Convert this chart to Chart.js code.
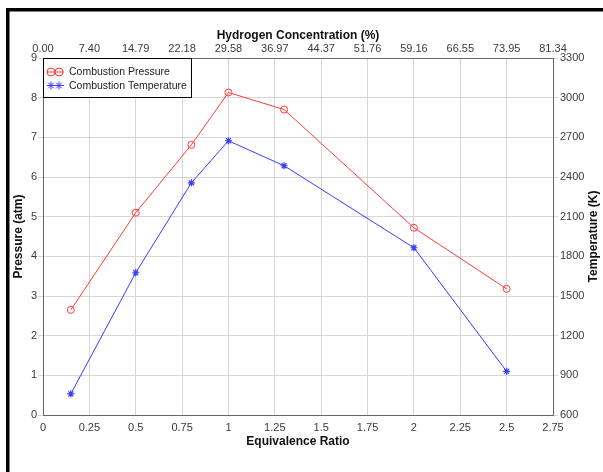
<!DOCTYPE html>
<html>
<head>
<meta charset="utf-8">
<script src="https://cdn.jsdelivr.net/npm/chart.js@4/dist/chart.umd.min.js"></script>
<style>
  html, body { margin: 0; padding: 0; background: #fff; }
  #wrap { position: relative; width: 603px; height: 472px; }
</style>
</head>
<body>
<div id="wrap"><canvas id="chart" width="603" height="472"></canvas></div>
<script>
// values
const equivalenceRatio = [0.15, 0.5, 0.8, 1.0, 1.3, 2.0, 2.5];
const pressure = [2.65, 5.10, 6.81, 8.13, 7.70, 4.72, 3.18];
const temperature = [760, 1676, 2356, 2674, 2485, 1865, 930];
const ratioTicks = ['0', '0.25', '0.5', '0.75', '1', '1.25', '1.5', '1.75',
                    '2', '2.25', '2.5', '2.75'];
const hydrogenTicks = ['0.00', '7.40', '14.79', '22.18', '29.58', '36.97',
                       '44.37', '51.76', '59.16', '66.55', '73.95', '81.34'];
const seriesLabels = ['Combustion Pressure', 'Combustion Temperature'];

const RED = '#ff3b3b';
const BLUE = '#3b3bff';
const GRID = '#d6d6d6';
const AXIS = '#666666';
const FAMILY = 'Liberation Sans, Arial, sans-serif';
const TICK_FONT = { family: FAMILY, size: 11 };
const TITLE_FONT = { family: FAMILY, size: 12, weight: 'bold' };

function toPoints(xs, ys) {
    return xs.map((x, i) => ({ x: x, y: ys[i] }));
}

// white page + the black frame that shows on the left and top edge
const framePlugin = {
    id: 'frame',
    beforeDraw(chart) {
        const ctx = chart.ctx;
        ctx.save();
        ctx.fillStyle = '#fff';
        ctx.fillRect(0, 0, chart.width, chart.height);
        ctx.restore();
    },
    afterDraw(chart) {
        const ctx = chart.ctx;
        ctx.save();
        ctx.fillStyle = '#000';
        ctx.fillRect(6, 8, 3.5, chart.height - 8);
        ctx.fillRect(6, 8, chart.width - 6, 3.5);
        ctx.restore();
    }
};

// right axis title reads bottom to top in the original, chart.js turns it the other way
const rightTitle = {
    id: 'rightTitle',
    afterDraw(chart) {
        const s = chart.scales.y2;
        const ctx = chart.ctx;
        ctx.save();
        ctx.translate(s.right - 9, (s.top + s.bottom) / 2);
        ctx.rotate(-Math.PI / 2);
        ctx.fillStyle = '#111';
        ctx.font = 'bold 12px ' + FAMILY;
        ctx.textAlign = 'center';
        ctx.textBaseline = 'middle';
        ctx.fillText('Temperature (K)', 0, 0);
        ctx.restore();
    }
};

// boxed legend inside the top left corner of the plot
const boxLegend = {
    id: 'boxLegend',
    afterDraw(chart) {
        const ctx = chart.ctx;
        const area = chart.chartArea;
        const x0 = area.left, y0 = area.top;
        const w = 149, h = 40;
        ctx.save();
        ctx.fillStyle = '#fff';
        ctx.fillRect(x0, y0, w, h);
        ctx.strokeStyle = '#000';
        ctx.lineWidth = 1;
        ctx.strokeRect(x0 + 0.5, y0 + 0.5, w - 1, h - 1);
        chart.data.datasets.forEach((ds, i) => {
            const cy = y0 + 14 + i * 13.5;
            ctx.strokeStyle = ds.borderColor;
            ctx.lineWidth = 1;
            ctx.beginPath();
            ctx.moveTo(x0 + 4, cy);
            ctx.lineTo(x0 + 21, cy);
            ctx.stroke();
            [x0 + 8, x0 + 16].forEach(px => {
                if (ds.pointStyle === 'circle') {
                    ctx.beginPath();
                    ctx.arc(px, cy, 4, 0, Math.PI * 2);
                    ctx.stroke();
                } else {
                    const r = 4;
                    ctx.beginPath();
                    ctx.moveTo(px - r, cy); ctx.lineTo(px + r, cy);
                    ctx.moveTo(px, cy - r); ctx.lineTo(px, cy + r);
                    ctx.moveTo(px - r * 0.7, cy - r * 0.7); ctx.lineTo(px + r * 0.7, cy + r * 0.7);
                    ctx.moveTo(px - r * 0.7, cy + r * 0.7); ctx.lineTo(px + r * 0.7, cy - r * 0.7);
                    ctx.stroke();
                }
            });
            ctx.fillStyle = '#222';
            ctx.font = '10.5px ' + FAMILY;
            ctx.textBaseline = 'middle';
            ctx.fillText(ds.label, x0 + 26, cy + 0.5);
        });
        ctx.restore();
    }
};

const chart = new Chart(document.getElementById('chart'), {
    type: 'line',
    data: {
        datasets: [
            {
                label: seriesLabels[0],
                data: toPoints(equivalenceRatio, pressure),
                yAxisID: 'y',
                borderColor: RED,
                backgroundColor: 'rgba(0,0,0,0)',
                borderWidth: 1,
                pointStyle: 'circle',
                pointRadius: 3.5,
                pointBorderWidth: 1,
                pointBorderColor: RED,
                pointBackgroundColor: 'rgba(0,0,0,0)',
                tension: 0
            },
            {
                label: seriesLabels[1],
                data: toPoints(equivalenceRatio, temperature),
                yAxisID: 'y2',
                borderColor: BLUE,
                backgroundColor: 'rgba(0,0,0,0)',
                borderWidth: 1,
                pointStyle: 'star',
                pointRadius: 3.5,
                pointBorderWidth: 1.2,
                pointBorderColor: BLUE,
                tension: 0
            }
        ]
    },
    options: {
        responsive: false,
        animation: false,
        devicePixelRatio: 1,
        layout: { padding: 0 },
        plugins: {
            legend: { display: false },
            tooltip: { enabled: false }
        },
        scales: {
            x: {
                type: 'linear',
                position: 'bottom',
                min: 0, max: 2.75,
                afterFit(s) { s.height = 57; },
                ticks: {
                    stepSize: 0.25, color: '#3a3a3a', font: TICK_FONT, padding: 6, maxRotation: 0, autoSkip: false,
                    callback: (v, i) => ratioTicks[i]
                },
                grid: { color: GRID, drawTicks: false },
                border: { color: AXIS, width: 1 },
                title: { display: true, text: 'Equivalence Ratio', color: '#111', font: TITLE_FONT, padding: { top: 0, bottom: 23 } }
            },
            x2: {
                type: 'linear',
                position: 'top',
                min: 0, max: 2.75,
                afterFit(s) { s.height = 58; },
                ticks: {
                    stepSize: 0.25, color: '#3a3a3a', font: TICK_FONT, padding: 2, maxRotation: 0, autoSkip: false,
                    callback: (v, i) => hydrogenTicks[i]
                },
                grid: { display: false, drawTicks: false },
                border: { color: AXIS, width: 1 },
                title: { display: true, text: 'Hydrogen Concentration (%)', color: '#111', font: TITLE_FONT, padding: { top: 28, bottom: 0 } }
            },
            y: {
                type: 'linear',
                position: 'left',
                min: 0, max: 9,
                afterFit(s) { s.width = 43; },
                ticks: { stepSize: 1, color: '#3a3a3a', font: TICK_FONT, padding: 1 },
                grid: { color: GRID, tickLength: 5 },
                border: { color: AXIS, width: 1 },
                title: { display: true, text: 'Pressure (atm)', color: '#111', font: TITLE_FONT, padding: { top: 11, bottom: 0 } }
            },
            y2: {
                type: 'linear',
                position: 'right',
                min: 600, max: 3300,
                afterFit(s) { s.width = 50; },
                ticks: { stepSize: 300, color: '#3a3a3a', font: TICK_FONT, padding: 2, callback: v => String(v) },
                grid: { color: GRID, drawOnChartArea: false, tickLength: 5 },
                border: { color: AXIS, width: 1 },
                title: { display: false }
            }
        }
    },
    plugins: [framePlugin, rightTitle, boxLegend]
});
</script>
</body>
</html>
